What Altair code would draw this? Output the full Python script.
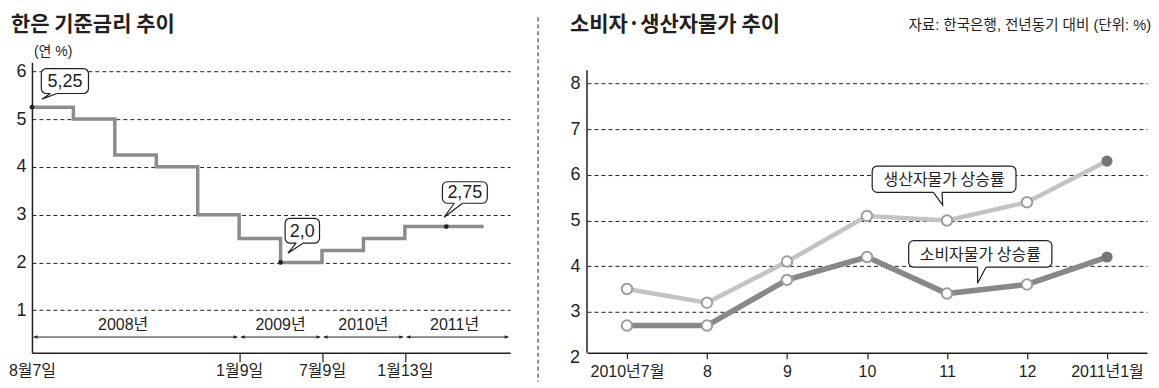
import json
import altair as alt
import pandas as pd

# ---------------- data ----------------
# 한은 기준금리 (left panel): successive rate steps (equal-width steps on the x axis)
rate_step_idx = [0, 1, 2, 3, 4, 5, 6, 7, 8, 9]
rate_values = [5.25, 5.00, 4.25, 4.00, 3.00, 2.50, 2.00, 2.25, 2.50, 2.75]
rate_end_idx = 10.9
rate_tick_idx = [0, 5, 7, 9]
rate_tick_labels = ["8월7일", "1월9일", "7월9일", "1월13일"]
rate_y_ticks = [1, 2, 3, 4, 5, 6]
year_labels = ["2008년", "2009년", "2010년", "2011년"]
year_start = [0, 5, 7, 9]
year_end = [5, 7, 9, 11.54]
mark_idx = [0, 6, 10]
mark_values = [5.25, 2.0, 2.75]
mark_labels = ["5,25", "2,0", "2,75"]

# 소비자·생산자물가 (right panel)
months = ["2010년7월", "8", "9", "10", "11", "12", "2011년1월"]
cpi = [2.7, 2.7, 3.7, 4.2, 3.4, 3.6, 4.2]
ppi = [3.5, 3.2, 4.1, 5.1, 5.0, 5.4, 6.3]
price_y_ticks = [2, 3, 4, 5, 6, 7, 8]
series_names = ["소비자물가 상승률", "생산자물가 상승률"]

title_left = "한은 기준금리 추이"
unit_left = "(연 %)"
title_right = "소비자·생산자물가 추이"
source_right = "자료: 한국은행, 전년동기 대비 (단위: %)"

# ---------------- layout / style ----------------
INK = "#231f20"
NUM_FONT = "Liberation Sans, Noto Sans CJK KR"
KR_FONT = "Noto Sans CJK KR"
L_W, R_W, H = 479, 561, 291
L_X = [0, 11.54]
L_Y = [0.11, 6.19]
R_X = [-0.5, 6.5]
R_Y = [2.105, 8.465]
R_AXIS_TOP = 8.29

# callout geometry (data units): x1, x2, y_bottom, y_top, tail_base1, tail_base2, tip_x, tip_y
left_boxes = [
    (0.226, 1.364, 5.536, 6.058, 0.443, 0.602, 0.24, 5.417),
    (6.11, 6.94, 2.402, 2.924, 6.376, 6.54, 6.177, 2.193),
    (9.906, 10.989, 3.238, 3.689, 10.19, 10.39, 9.947, 2.945),
]
right_boxes = [
    (3.521, 5.311, 3.978, 4.559, 4.382, 4.487, 4.382, 3.628),
    (3.065, 4.862, 5.617, 6.192, 3.830, 3.938, 3.946, 5.339),
]
year_text_x = [2.2, 6.0, 8.0, 10.2]
bracket_y = 0.438
year_text_y = 0.695
GAP = 0.04


def X(f):
    return alt.X(f, title=None)


def Y(f):
    return alt.Y(f, title=None)


def callout_layers(labels, boxes, font, size):
    rows, tails = [], []
    for i, (lab, b) in enumerate(zip(labels, boxes)):
        x1, x2, yb, yt, b1, b2, tx, ty = b
        rows.append(dict(label=lab, x1=x1, x2=x2, yb=yb, yt=yt, b1=b1, b2=b2,
                         cx=(x1 + x2) / 2, cy=(yb + yt) / 2))
        tails += [dict(id=i, k=0, x=b1, y=yb), dict(id=i, k=1, x=tx, y=ty),
                  dict(id=i, k=2, x=b2, y=yb)]
    bdf, tdf = pd.DataFrame(rows), pd.DataFrame(tails)
    rect = alt.Chart(bdf).mark_rect(fill="white", stroke=INK, strokeWidth=1.2,
                                    cornerRadius=5).encode(
        x=X("x1:Q"), x2="x2:Q", y=Y("yb:Q"), y2="yt:Q")
    cover = alt.Chart(bdf).mark_rule(color="white", strokeWidth=3).encode(
        x=X("b1:Q"), x2="b2:Q", y=Y("yb:Q"))
    tail = alt.Chart(tdf).mark_line(color=INK, strokeWidth=1.2).encode(
        x=X("x:Q"), y=Y("y:Q"), detail="id:N", order="k:Q")
    text = alt.Chart(bdf).mark_text(font=font, fontSize=size, color=INK,
                                    baseline="middle", dy=1).encode(
        x=X("cx:Q"), y=Y("cy:Q"), text="label:N")
    return [rect, cover, tail, text]


one = pd.DataFrame({"t": [0]})

# ---------------- left panel ----------------
rate_df = pd.DataFrame({"i": rate_step_idx + [rate_end_idx],
                        "v": rate_values + [rate_values[-1]]})
left_label_expr = (f"{json.dumps(rate_tick_labels, ensure_ascii=False)}"
                   f"[indexof({json.dumps(rate_tick_idx)}, datum.value)]")

step = alt.Chart(rate_df).mark_line(interpolate="step-after", color="#8c8c8c",
                                    strokeWidth=3.5).encode(
    x=alt.X("i:Q", title=None, scale=alt.Scale(domain=L_X, nice=False, zero=False),
            axis=alt.Axis(values=rate_tick_idx, labelExpr=left_label_expr, title=None,
                          grid=False, tickSize=9, tickColor=INK, tickWidth=1.2,
                          tickOpacity=alt.condition("datum.value == 0", alt.value(0), alt.value(1)),
                          domainColor=INK, domainWidth=1.5, labelFont=NUM_FONT,
                          labelFontSize=16, labelColor=INK, labelPadding=1,
                          labelFlush=False, labelOverlap=False)),
    y=alt.Y("v:Q", title=None, scale=alt.Scale(domain=L_Y, nice=False, zero=False),
            axis=alt.Axis(values=rate_y_ticks, title=None, grid=True, gridDash=[4, 3],
                          gridColor=INK, gridWidth=1, ticks=False, domainColor=INK,
                          domainWidth=1.5, labelFont="Liberation Sans", labelFontSize=18,
                          labelColor=INK, labelPadding=6, labelOverlap=False)),
)

dots_df = pd.DataFrame({"i": mark_idx, "v": mark_values})
dots = alt.Chart(dots_df).mark_circle(size=22, color=INK, opacity=1).encode(
    x=X("i:Q"), y=Y("v:Q"))

yr_df = pd.DataFrame({"label": year_labels, "s": year_start, "e": year_end,
                      "tx": year_text_x})
yr_base = alt.Chart(yr_df).transform_calculate(
    s2=f"datum.s + {GAP}", e2=f"datum.e - {GAP}", by=f"{bracket_y}", ty=f"{year_text_y}")
yr_rule = yr_base.mark_rule(color=INK, strokeWidth=1).encode(
    x=X("s2:Q"), x2="e2:Q", y=Y("by:Q"))
yr_head_r = yr_base.mark_point(shape="M0,0L-1,-0.45L-1,0.45Z", filled=True, size=60,
                               color=INK, opacity=1).encode(x=X("e2:Q"), y=Y("by:Q"))
yr_head_l = yr_base.mark_point(shape="M0,0L1,-0.45L1,0.45Z", filled=True, size=60,
                               color=INK, opacity=1).encode(x=X("s2:Q"), y=Y("by:Q"))
yr_text = yr_base.mark_text(font=NUM_FONT, fontSize=16, color=INK,
                            baseline="middle").encode(
    x=X("tx:Q"), y=Y("ty:Q"), text="label:N")

l_title = alt.Chart(one).mark_text(text=title_left, font=KR_FONT, fontSize=21,
                                   fontWeight="bold", color=INK, align="left",
                                   baseline="middle").encode(
    x=alt.value(-21), y=alt.value(-37))
l_unit = alt.Chart(one).mark_text(text=unit_left, font=NUM_FONT, fontSize=14,
                                  color=INK, align="left", baseline="middle").encode(
    x=alt.value(2), y=alt.value(-10))

left = alt.layer(
    step, dots, *callout_layers(mark_labels, left_boxes, NUM_FONT, 18),
    yr_rule, yr_head_r, yr_head_l, yr_text, l_title, l_unit,
).properties(width=L_W, height=H)

# ---------------- right panel ----------------
idx = list(range(len(months)))
price_df = pd.DataFrame({
    "i": idx * 2,
    "v": cpi + ppi,
    "s": [series_names[0]] * len(idx) + [series_names[1]] * len(idx),
    "last": [k == idx[-1] for k in idx] * 2,
})
month_expr = f"{json.dumps(months, ensure_ascii=False)}[datum.value]"

ppi_line = alt.Chart(price_df).transform_filter(
    f"datum.s == '{series_names[1]}'").mark_line(color="#c3c3c3", strokeWidth=4.5).encode(
    x=alt.X("i:Q", title=None, scale=alt.Scale(domain=R_X, nice=False, zero=False),
            axis=alt.Axis(values=idx, labelExpr=month_expr, title=None, grid=False,
                          tickSize=6, tickColor=INK, tickWidth=1.2, domainColor=INK,
                          domainWidth=1.5, labelFont=NUM_FONT, labelFontSize=16,
                          labelColor=INK, labelPadding=5, labelFlush=False,
                          labelOverlap=False)),
    y=alt.Y("v:Q", title=None, scale=alt.Scale(domain=R_Y, nice=False, zero=False),
            axis=alt.Axis(values=price_y_ticks[1:], title=None, grid=True,
                          gridDash=[4, 3], gridColor=INK, gridWidth=1, ticks=False,
                          domain=False, labelFont="Liberation Sans", labelFontSize=18,
                          labelColor=INK, labelPadding=7, labelOverlap=False)),
)
cpi_line = alt.Chart(price_df).transform_filter(
    f"datum.s == '{series_names[0]}'").mark_line(color="#888888", strokeWidth=5.5).encode(
    x=X("i:Q"), y=Y("v:Q"))
open_pts = alt.Chart(price_df).transform_filter("!datum.last").mark_point(
    shape="circle", filled=True, fill="white", stroke="#9d9d9d", strokeWidth=2,
    size=110, opacity=1).encode(x=X("i:Q"), y=Y("v:Q"))
last_pts = alt.Chart(price_df).transform_filter("datum.last").mark_circle(
    size=125, color="#767676", opacity=1).encode(x=X("i:Q"), y=Y("v:Q"))

y_domain_line = alt.Chart(one).mark_rule(color=INK, strokeWidth=1.5).encode(
    x=alt.value(0), y=alt.Y(datum=R_Y[0], title=None), y2=alt.Y2(datum=R_AXIS_TOP))
y_two = alt.Chart(one).mark_text(text=str(price_y_ticks[0]), font="Liberation Sans",
                                 fontSize=18, color=INK, align="right",
                                 baseline="middle").encode(
    x=alt.value(-7), y=alt.Y(datum=price_y_ticks[0], title=None))

r_title = alt.Chart(one).mark_text(text=title_right, font=KR_FONT, fontSize=21,
                                   fontWeight="bold", color=INK, align="left",
                                   baseline="middle").encode(
    x=alt.value(-17), y=alt.value(-37))
r_source = alt.Chart(one).mark_text(text=source_right, font=NUM_FONT, fontSize=14.6,
                                    color=INK, align="right", baseline="middle").encode(
    x=alt.value(565), y=alt.value(-36))
divider = alt.Chart(one).mark_rule(color=INK, strokeWidth=1, strokeDash=[4, 3]).encode(
    x=alt.value(-49), y=alt.value(-45), y2=alt.value(320))

right = alt.layer(
    ppi_line, divider, cpi_line, open_pts, last_pts, y_domain_line, y_two,
    *callout_layers(series_names, right_boxes, KR_FONT, 16),
    r_title, r_source,
).properties(width=R_W, height=H)

chart = alt.hconcat(left, right, spacing=27).properties(
    padding={"left": 0, "top": 6, "right": 0, "bottom": 0},
    background="white",
).configure_view(stroke=None)

chart.save("out.html", embed_options={"renderer": "svg", "actions": False})
